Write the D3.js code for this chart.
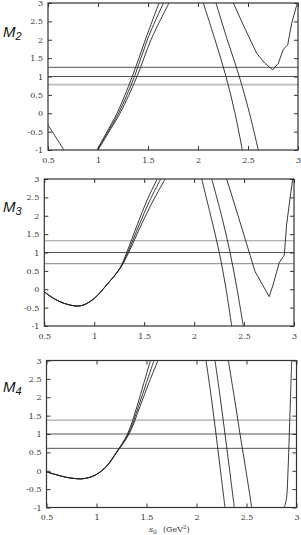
<!DOCTYPE html>
<html>
<head>
<meta charset="utf-8">
<script src="https://cdn.jsdelivr.net/npm/d3@7"></script>
<style>
	body { margin:0; background:#fff; }
	svg { display:block; }
	.tick text { font-family:"DejaVu Serif","Liberation Serif",serif; font-size:8px; fill:#333; }
	.tick line { stroke:#333; }
</style>
</head>
<body>
<div id="chart"></div>
<script>

// ticks
const xTicks = [0.5, 1, 1.5, 2, 2.5, 3];
const yTicks = [-1, -0.5, 0, 0.5, 1, 1.5, 2, 2.5, 3];

// horizontal reference lines, per panel
const m2Bands = [0.78, 1, 1.25];
const m3Bands = [0.7, 1, 1.32];
const m4Bands = [0.61, 1, 1.38];

// M2 curves [s0, value]
const m2Left  = [[0.5,-0.32],[0.58,-0.66],[0.66,-1]];
const m2RiseA = [[0.99,-1],[1.08,-0.55],[1.19,0],[1.343,1],[1.48,2.05],[1.61,3]];
const m2RiseB = [[0.995,-1],[1.09,-0.55],[1.205,0],[1.365,1],[1.5,2.05],[1.655,3]];
const m2RiseC = [[1.0,-1],[1.1,-0.55],[1.22,0],[1.39,1],[1.53,2.0],[1.71,3]];
const m2FallA = [[2.053,3],[2.17,2.0],[2.28,1],[2.37,0],[2.443,-1]];
const m2FallB = [[2.18,3],[2.293,2],[2.413,1],[2.515,0],[2.603,-1]];
const m2Kink  = [[2.353,3],[2.47,2.3],[2.587,1.63],[2.67,1.36],[2.747,1.18],[2.803,1.36],[2.853,1.74],[2.897,1.86],[2.937,2.45],[2.993,3]];

// M3 curves
const m3RiseA = [[0.5,-0.07],[0.6,-0.26],[0.7,-0.385],[0.824,-0.456],[0.9,-0.42],[1.0,-0.25],[1.125,0.12],[1.258,0.58],[1.325,1.0],[1.43,1.75],[1.525,2.4],[1.63,3]];
const m3RiseB = [[0.5,-0.07],[0.6,-0.26],[0.7,-0.385],[0.824,-0.456],[0.9,-0.42],[1.0,-0.25],[1.125,0.12],[1.258,0.57],[1.335,1.0],[1.45,1.75],[1.55,2.38],[1.665,3]];
const m3RiseC = [[0.5,-0.07],[0.6,-0.26],[0.7,-0.385],[0.824,-0.456],[0.9,-0.42],[1.0,-0.25],[1.125,0.12],[1.258,0.56],[1.345,1.0],[1.47,1.75],[1.58,2.36],[1.71,3]];
const m3FallA = [[2.076,3],[2.166,2],[2.252,1],[2.32,0],[2.376,-1]];
const m3FallB = [[2.176,3],[2.275,2],[2.36,1],[2.43,0],[2.492,-1]];
const m3Kink  = [[2.326,3],[2.44,2],[2.56,0.93],[2.61,0.48],[2.752,-0.2],[2.79,0.116],[2.853,0.73],[2.903,0.93],[2.926,1.75],[2.96,2.47],[2.987,3]];

// M4 curves
const m4RiseA = [[0.5,-0.03],[0.6,-0.11],[0.7,-0.18],[0.85,-0.22],[0.93,-0.18],[1.0,-0.1],[1.1,0.13],[1.2,0.51],[1.31,1.0],[1.405,1.75],[1.475,2.4],[1.54,3]];
const m4RiseB = [[0.5,-0.03],[0.6,-0.11],[0.7,-0.18],[0.85,-0.22],[0.93,-0.18],[1.0,-0.1],[1.1,0.12],[1.2,0.5],[1.318,1.0],[1.42,1.75],[1.5,2.4],[1.575,3]];
const m4RiseC = [[0.5,-0.03],[0.6,-0.11],[0.7,-0.18],[0.85,-0.22],[0.93,-0.18],[1.0,-0.1],[1.1,0.11],[1.2,0.49],[1.326,1.0],[1.435,1.75],[1.525,2.4],[1.615,3]];
const m4FallA = [[2.095,3],[2.148,2],[2.195,1],[2.24,0],[2.285,-1]];
const m4FallB = [[2.185,3],[2.237,2],[2.285,1],[2.332,0],[2.378,-1]];
const m4FallC = [[2.318,3],[2.378,2],[2.435,1],[2.495,0],[2.552,-1]];
const m4Right = [[2.878,-1],[2.9,-0.75],[2.915,0],[2.928,1],[2.94,2],[2.952,3]];

const width = 301, height = 535;

// panel boxes (pixel frame of each plot)
const panels = [
	{ name:'2', l:48,   r:298,   t:3,     b:150,   labelY:37,
		bands:m2Bands, bandColors:['#bbb','#555','#555'], bandWidths:[1.6,1,1],
		smooth:[m2Left,m2RiseA,m2RiseB,m2RiseC,m2FallA,m2FallB], sharp:[m2Kink] },
	{ name:'3', l:44.3, r:294,   t:179,   b:326,   labelY:212,
		bands:m3Bands, bandColors:['#999','#555','#999'], bandWidths:[1.2,1,1.2],
		smooth:[m3RiseA,m3RiseB,m3RiseC,m3FallA,m3FallB], sharp:[m3Kink] },
	{ name:'4', l:46.5, r:296.5, t:360.5, b:507.5, labelY:392,
		bands:m4Bands, bandColors:['#555','#555','#aaa'], bandWidths:[1,1,1.2],
		smooth:[m4RiseA,m4RiseB,m4RiseC,m4FallA,m4FallB,m4FallC,m4Right], sharp:[] }
];

const svg = d3.select('#chart').append('svg')
	.attr('width', width)
	.attr('height', height);

panels.forEach((p, i) => {

	const w = p.r - p.l;
	const h = p.b - p.t;

	const scaleX = d3.scaleLinear().domain([0.5, 3]).range([0, w]);
	const scaleY = d3.scaleLinear().domain([-1, 3]).range([h, 0]);

	const plot = svg.append('g')
		.attr('transform', `translate(${p.l},${p.t})`);

	plot.append('clipPath')
		.attr('id', 'clip' + i)
		.append('rect')
		.attr('width', w)
		.attr('height', h);

	const inner = plot.append('g').attr('clip-path', `url(#clip${i})`);

	//reference lines
	inner.selectAll('.band')
		.data(p.bands)
		.enter()
		.append('line')
		.attr('class', 'band')
		.attr('x1', 0)
		.attr('x2', w)
		.attr('y1', d => scaleY(d))
		.attr('y2', d => scaleY(d))
		.style('stroke', (d, j) => p.bandColors[j])
		.style('stroke-width', (d, j) => p.bandWidths[j]);

	//curves
	const lineSmooth = d3.line()
		.x(d => scaleX(d[0]))
		.y(d => scaleY(d[1]))
		.curve(d3.curveCatmullRom);

	const lineSharp = d3.line()
		.x(d => scaleX(d[0]))
		.y(d => scaleY(d[1]));

	inner.selectAll('.smooth')
		.data(p.smooth)
		.enter()
		.append('path')
		.attr('class', 'smooth')
		.attr('d', lineSmooth)
		.style('fill', 'none')
		.style('stroke', '#222')
		.style('stroke-width', 0.9);

	inner.selectAll('.sharp')
		.data(p.sharp)
		.enter()
		.append('path')
		.attr('class', 'sharp')
		.attr('d', lineSharp)
		.style('fill', 'none')
		.style('stroke', '#222')
		.style('stroke-width', 0.9);

	//axes, ticks pointing inward
	const fmt = d => String(d);

	plot.append('g')
		.attr('transform', `translate(0,${h})`)
		.call(d3.axisBottom(scaleX).tickValues(xTicks).tickSize(-4).tickPadding(7).tickFormat(fmt));

	plot.append('g')
		.call(d3.axisTop(scaleX).tickValues(xTicks).tickSize(-4).tickFormat(''));

	plot.append('g')
		.call(d3.axisLeft(scaleY).tickValues(yTicks).tickSize(-4).tickPadding(5).tickFormat(fmt));

	plot.append('g')
		.attr('transform', `translate(${w},0)`)
		.call(d3.axisRight(scaleY).tickValues(yTicks).tickSize(-4).tickFormat(''));

	plot.selectAll('.domain').remove();

	//frame
	plot.append('rect')
		.attr('width', w)
		.attr('height', h)
		.style('fill', 'none')
		.style('stroke', '#333')
		.style('stroke-width', 1.2);

	//panel label
	const label = svg.append('text')
		.attr('x', 3)
		.attr('y', p.labelY)
		.style('font-family', '"Liberation Sans", Arial, sans-serif')
		.style('font-style', 'italic')
		.style('font-size', '15px')
		.style('fill', '#111');
	label.append('tspan').text('M');
	label.append('tspan')
		.attr('dy', 3)
		.style('font-size', '11px')
		.text(p.name);
});

//x axis title under last panel
const title = svg.append('text')
	.attr('x', 149)
	.attr('y', 532)
	.style('font-family', '"DejaVu Serif","Liberation Serif",serif')
	.style('font-size', '8px')
	.style('fill', '#333');
title.append('tspan').style('font-style', 'italic').text('s');
title.append('tspan').attr('dy', 1.5).style('font-size', '6px').text('0');
title.append('tspan').attr('dy', -1.5).attr('dx', 6).text('(GeV');
title.append('tspan').attr('dy', -3).style('font-size', '5.5px').text('2');
title.append('tspan').attr('dy', 3).text(')');

</script>
</body>
</html>
